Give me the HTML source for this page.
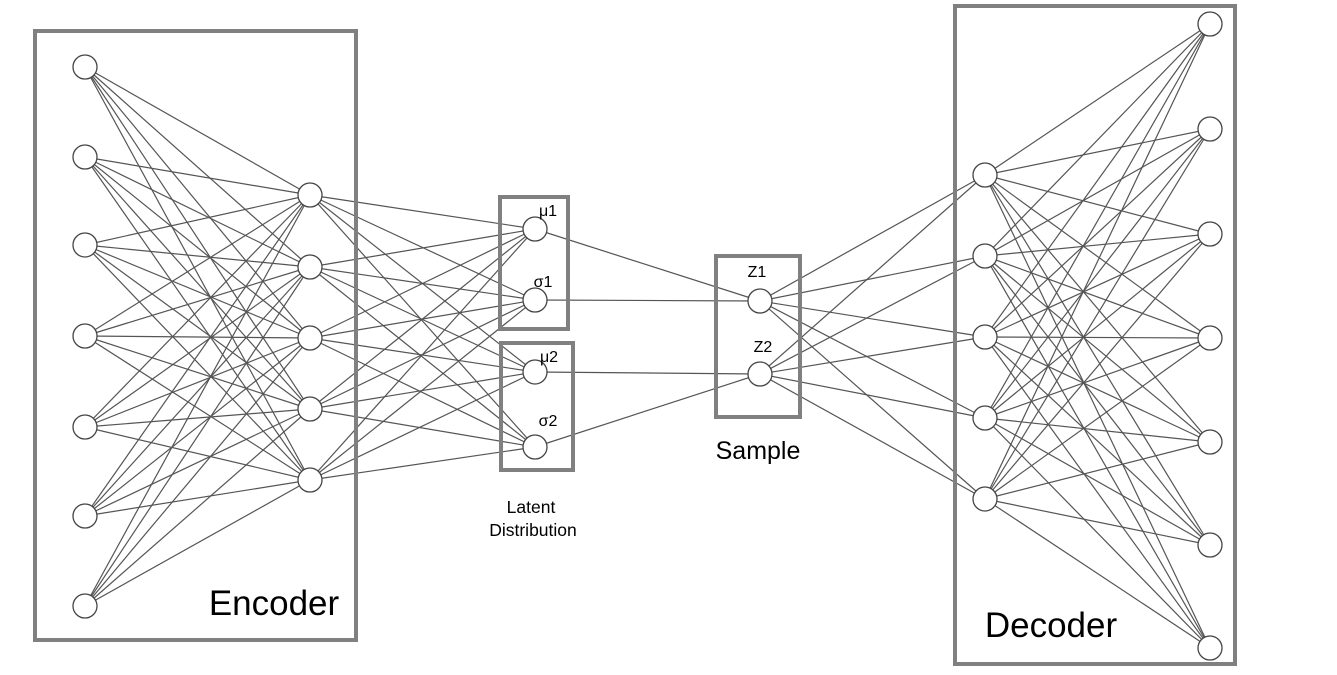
<!DOCTYPE html>
<html><head><meta charset="utf-8"><style>
html,body{margin:0;padding:0;background:#fff;}
svg{display:block;}
text{font-family:"Liberation Sans",Arial,sans-serif;fill:#000;}
</style></head><body>
<svg width="1337" height="675" xmlns="http://www.w3.org/2000/svg">
<g id="lines" stroke="#555" stroke-width="1.2" fill="none"></g>
<g fill="none" stroke="#808080" stroke-width="4">
<rect x="35" y="31" width="321" height="609"/>
<rect x="500" y="197" width="68" height="132"/>
<rect x="501" y="343" width="72" height="127"/>
<rect x="716" y="256" width="84" height="161"/>
<rect x="955" y="6" width="280" height="658"/>
</g>
<g id="nodes" fill="#fff" stroke="#444" stroke-width="1.3"></g>
<text x="548" y="216" font-size="16" text-anchor="middle">μ1</text>
<text x="543" y="287" font-size="16" text-anchor="middle">σ1</text>
<text x="549" y="362" font-size="16" text-anchor="middle">μ2</text>
<text x="548" y="426" font-size="16" text-anchor="middle">σ2</text>
<text x="757" y="277" font-size="16" text-anchor="middle">Z1</text>
<text x="763" y="352" font-size="16" text-anchor="middle">Z2</text>
<text x="758" y="459" font-size="25" text-anchor="middle">Sample</text>
<text x="531" y="513" font-size="17.5" text-anchor="middle">Latent</text>
<text x="533" y="536" font-size="17.5" text-anchor="middle">Distribution</text>
<text x="274" y="615" font-size="35" text-anchor="middle">Encoder</text>
<text x="1051" y="637" font-size="35" text-anchor="middle">Decoder</text>
<script>
var NS="http://www.w3.org/2000/svg";
function P(x,ys){return ys.map(function(y){return [x,y];});}
var inp=P(85,[67,157,245,336,427,516,606]);
var h1=P(310,[195,267,338,409,480]);
var lat=[[535,229],[535,300],[535,372],[535,447]];
var z=[[760,301],[760,374]];
var h2=P(985,[175,256,337,418,499]);
var out=P(1210,[24,129,234,338,442,545,648]);
var L=document.getElementById("lines"),N=document.getElementById("nodes");
function line(a,b){var l=document.createElementNS(NS,"line");l.setAttribute("x1",a[0]);l.setAttribute("y1",a[1]);l.setAttribute("x2",b[0]);l.setAttribute("y2",b[1]);L.appendChild(l);}
function all(A,B){A.forEach(function(a){B.forEach(function(b){line(a,b);});});}
all(inp,h1);all(h1,lat);
line(lat[0],z[0]);line(lat[1],z[0]);line(lat[2],z[1]);line(lat[3],z[1]);
all(z,h2);all(h2,out);
[inp,h1,lat,z,h2,out].forEach(function(g){g.forEach(function(p){var c=document.createElementNS(NS,"circle");c.setAttribute("cx",p[0]);c.setAttribute("cy",p[1]);c.setAttribute("r",12);N.appendChild(c);});});
</script>
</svg>
</body></html>
